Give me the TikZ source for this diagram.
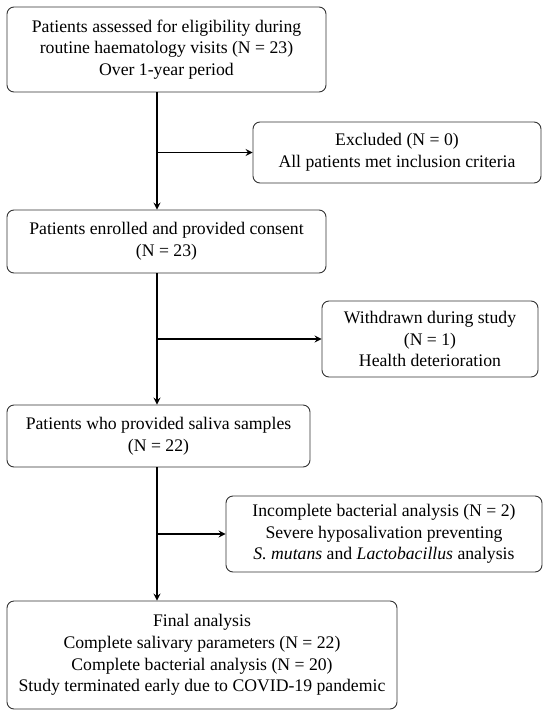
\documentclass[tikz,border=0pt]{standalone}
\usepackage{fontspec}
\setmainfont{Liberation Serif}
\usetikzlibrary{arrows.meta}
\tikzset{
  box/.style={draw=black!80, line width=0.9pt, rounded corners=7pt, align=center, inner sep=0pt,
    font=\fontsize{17.7}{21.7}\selectfont},
  arr/.style={line width=1.7pt, -{Stealth[length=7pt,width=7pt,inset=2.5pt]}},
}
\begin{document}
\begin{tikzpicture}[x=1pt,y=-1pt]
\useasboundingbox (0,0) rectangle (550,718);
\coordinate (sp) at (157,0);
\node[box, minimum width=319pt, minimum height=85pt] (b1) at (166.5,49.5)
  {Patients assessed for eligibility during\\routine haematology visits (N = 23)\\Over 1-year period};
\node[box, minimum width=288pt, minimum height=61pt] (ex) at (397,152.5)
  {Excluded (N = 0)\\All patients met inclusion criteria};
\node[box, minimum width=319pt, minimum height=63pt] (b2) at (166.5,241.5)
  {Patients enrolled and provided consent\\(N = 23)};
\node[box, minimum width=216pt, minimum height=76pt] (wd) at (430,339)
  {Withdrawn during study\\(N = 1)\\Health deterioration};
\node[box, minimum width=303pt, minimum height=62pt] (b3) at (158.5,436)
  {Patients who provided saliva samples\\(N = 22)};
\node[box, minimum width=316pt, minimum height=76pt] (ic) at (384,534)
  {Incomplete bacterial analysis (N = 2)\\Severe hyposalivation preventing\\\textit{S. mutans} and \textit{Lactobacillus} analysis};
\node[box, minimum width=390pt, minimum height=108pt] (b5) at (202,655)
  {Final analysis\\Complete salivary parameters (N = 22)\\Complete bacterial analysis (N = 20)\\Study terminated early due to COVID-19 pandemic};
\draw[arr] (b1.south -| sp) -- (b2.north -| sp);
\draw[arr] (b2.south -| sp) -- (b3.north -| sp);
\draw[arr] (b3.south -| sp) -- (b5.north -| sp);
\draw[arr] (ex.west -| sp) -- (ex.west);
\draw[arr] (wd.west -| sp) -- (wd.west);
\draw[arr] (ic.west -| sp) -- (ic.west);
\end{tikzpicture}
\end{document}
